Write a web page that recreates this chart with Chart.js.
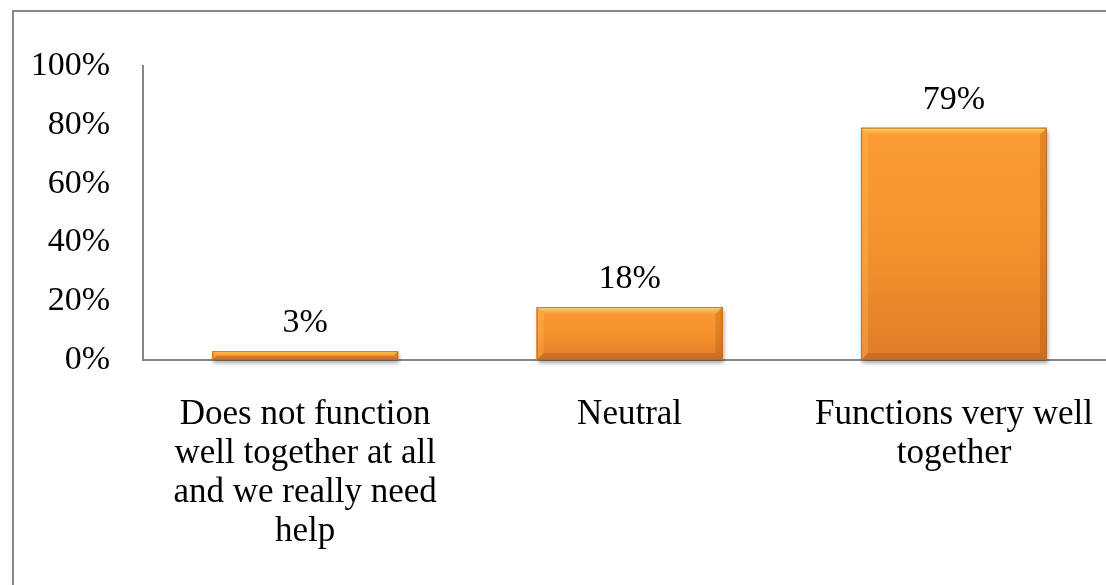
<!DOCTYPE html>
<html>
<head>
<meta charset="utf-8">
<script src="https://cdn.jsdelivr.net/npm/chart.js@4.4.1/dist/chart.umd.min.js"></script>
<style>
  html, body { margin: 0; padding: 0; background: #ffffff; overflow: hidden; width: 1106px; height: 585px; }
  #frame { position: absolute; left: 12px; top: 10px; width: 1200px; height: 700px; border-left: 2px solid #878787; border-top: 2px solid #878787; box-sizing: border-box; }
  #c { position: absolute; left: 0; top: 0; }
</style>
</head>
<body>
<div id="frame"></div>
<canvas id="c" width="1128" height="585"></canvas>
<script>
const categories = [
  ["Does not function", "well together at all", "and we really need", "help"],
  ["Neutral"],
  ["Functions very well", "together"]
];
const values = [3, 18, 79];
const valueLabels = ["3%", "18%", "79%"];
const yTicks = [0, 20, 40, 60, 80, 100];

const FONT = "'Liberation Serif', 'Times New Roman', serif";

const bevelPlugin = {
  id: 'bevel',
  beforeDatasetsDraw(chart) {
    const ctx = chart.ctx;
    const meta = chart.getDatasetMeta(0);
    ctx.save();
    meta.data.forEach(bar => {
      const p = bar.getProps(['x', 'y', 'base', 'width'], true);
      const l = p.x - p.width / 2, t = p.y, h = p.base - p.y;
      ctx.shadowColor = 'rgba(0,0,0,0.35)';
      ctx.shadowBlur = 4;
      ctx.shadowOffsetX = 1;
      ctx.shadowOffsetY = 3;
      ctx.fillStyle = '#d07020';
      ctx.fillRect(l, t, p.width, h);
    });
    ctx.restore();
  },
  afterDatasetsDraw(chart) {
    const ctx = chart.ctx;
    const meta = chart.getDatasetMeta(0);
    ctx.save();
    meta.data.forEach((bar, i) => {
      const p = bar.getProps(['x', 'y', 'base', 'width'], true);
      const l = p.x - p.width / 2, r = p.x + p.width / 2, t = p.y, b = p.base;
      const h = b - t;
      const s = Math.min(7, h / 2.2);
      // per-bar body gradient
      let gb = ctx.createLinearGradient(0, t, 0, b);
      gb.addColorStop(0, '#fb9b32');
      gb.addColorStop(0.5, '#f5922d');
      gb.addColorStop(1, '#e07c27');
      ctx.fillStyle = gb;
      ctx.fillRect(l, t, p.width, h);
      // top bevel
      let g = ctx.createLinearGradient(0, t, 0, t + s);
      g.addColorStop(0, 'rgba(255,225,120,0.95)');
      g.addColorStop(1, 'rgba(252,170,60,0.3)');
      ctx.fillStyle = g;
      ctx.beginPath(); ctx.moveTo(l, t); ctx.lineTo(r, t); ctx.lineTo(r - s, t + s); ctx.lineTo(l + s, t + s); ctx.closePath(); ctx.fill();
      // left bevel
      ctx.fillStyle = 'rgba(255,190,90,0.35)';
      ctx.beginPath(); ctx.moveTo(l, t); ctx.lineTo(l + s, t + s); ctx.lineTo(l + s, b - s); ctx.lineTo(l, b); ctx.closePath(); ctx.fill();
      // right bevel
      ctx.fillStyle = 'rgba(150,70,10,0.25)';
      ctx.beginPath(); ctx.moveTo(r, t); ctx.lineTo(r - s, t + s); ctx.lineTo(r - s, b - s); ctx.lineTo(r, b); ctx.closePath(); ctx.fill();
      // bottom bevel
      ctx.fillStyle = 'rgba(140,60,10,0.25)';
      ctx.beginPath(); ctx.moveTo(l, b); ctx.lineTo(l + s, b - s); ctx.lineTo(r - s, b - s); ctx.lineTo(r, b); ctx.closePath(); ctx.fill();
      // outline
      ctx.strokeStyle = 'rgba(190,105,30,0.85)';
      ctx.lineWidth = 1;
      ctx.strokeRect(l + 0.5, t + 0.5, p.width - 1, h - 1);
      // value label
      ctx.fillStyle = '#000000';
      ctx.font = '34px ' + FONT;
      ctx.textAlign = 'center';
      ctx.textBaseline = 'alphabetic';
      ctx.fillText(valueLabels[i], p.x, t - 19);
    });
    ctx.restore();
  }
};

const ctx = document.getElementById('c').getContext('2d');
new Chart(ctx, {
  type: 'bar',
  data: {
    labels: categories,
    datasets: [{
      data: values,
      backgroundColor: '#f5922d',
      borderWidth: 0,
      barPercentage: 0.573,
      categoryPercentage: 1.0
    }]
  },
  options: {
    responsive: false,
    animation: false,
    events: [],
    layout: { padding: { left: 0, top: 66, right: 0, bottom: 0 } },
    plugins: { legend: { display: false }, tooltip: { enabled: false } },
    scales: {
      x: {
        grid: { display: false, drawTicks: false },
        border: { display: true, color: '#878787', width: 2 },
        ticks: {
          color: '#000000',
          font: { family: FONT, size: 35, lineHeight: 1.114 },
          padding: 35,
          maxRotation: 0,
          autoSkip: false
        },
        afterFit: (s) => { s.height = 225; }
      },
      y: {
        min: 0, max: 100,
        grid: { display: false, drawTicks: false },
        border: { display: true, color: '#878787', width: 2 },
        afterBuildTicks: (s) => { s.ticks = yTicks.map(v => ({ value: v })); },
        ticks: {
          color: '#000000',
          font: { family: FONT, size: 34 },
          padding: 33,
          callback: (v) => v + '%'
        },
        afterFit: (s) => { s.width = 143; }
      }
    }
  },
  plugins: [bevelPlugin]
});
</script>
</body>
</html>
